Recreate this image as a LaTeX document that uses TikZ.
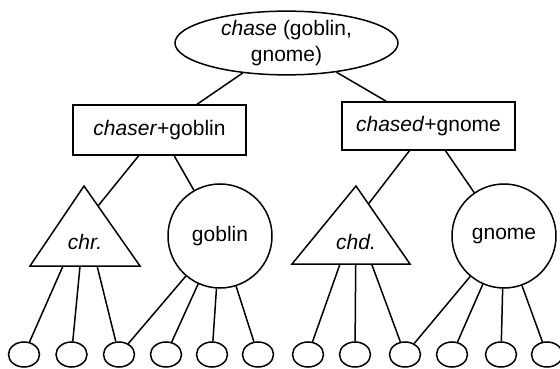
\documentclass[tikz,border=0pt]{standalone}
\usepackage{fontspec}
\setmainfont{Liberation Sans}
\usetikzlibrary{shapes.geometric,calc}
\begin{document}
\begin{tikzpicture}[x=1pt,y=-1pt,line width=1.5pt,
  every node/.style={font=\fontsize{21}{25.5}\selectfont,inner sep=0pt},
  oval/.style={draw,ellipse,minimum width=223pt,minimum height=62pt,align=center},
  box/.style={draw,rectangle,minimum width=173pt,minimum height=50pt},
  bigcirc/.style={draw,circle,minimum size=104pt},
  leaf/.style={draw,ellipse,minimum width=31pt,minimum height=25pt}]
\useasboundingbox (0,0) rectangle (560,369);
% top
\node[oval] (top) at (286.5,43) {\textit{chase} (goblin,\\gnome)};
% boxes
\node[box] (rectL) at (159.5,130) {\textit{chaser}+goblin};
\node[box,minimum height=48pt] (rectR) at (428.5,126) {\textit{chased}+gnome};
% triangles
\coordinate (tlA) at (84,186);
\coordinate (tlL) at (30,266);
\coordinate (tlR) at (140,266);
\draw[line join=miter] (tlA) -- (tlL) -- (tlR) -- cycle;
\node (triL) at (85,242) {\textit{chr.}};
\coordinate (trA) at (356,186);
\coordinate (trL) at (292,264);
\coordinate (trR) at (410,264);
\draw[line join=miter] (trA) -- (trL) -- (trR) -- cycle;
\node (triR) at (356,242) {\textit{chd.}};
% circles
\node[bigcirc] (gob) at (220,236) {goblin};
\node[bigcirc] (gno) at (504,236) {gnome};
% leaves
\foreach \i/\x in {1/24,2/71.5,3/119,4/166,5/212,6/258,7/308,8/355,9/405,10/452,11/501,12/547}
  \node[leaf] (e\i) at (\x,354.5) {};
% connectors
\draw (top) -- (rectL);
\draw (top) -- (rectR);
\draw (rectL) -- ($(tlA)!0.25!(tlR)$);
\draw (rectL) -- (gob);
\draw (rectR) -- ($(trA)!0.23!(trR)$);
\draw (rectR) -- (gno);
\draw ($(tlL)!0.30!(tlR)$) -- (e1);
\draw ($(tlL)!0.455!(tlR)$) -- (e2);
\draw ($(tlL)!0.61!(tlR)$) -- (e3);
\draw (gob) -- (e3);
\draw (gob) -- (e4);
\draw (gob) -- (e5);
\draw (gob) -- (e6);
\draw ($(trL)!0.407!(trR)$) -- (e7);
\draw ($(trL)!0.54!(trR)$) -- (e8);
\draw ($(trL)!0.675!(trR)$) -- (e9);
\draw (gno) -- (e9);
\draw (gno) -- (e10);
\draw (gno) -- (e11);
\draw (gno) -- (e12);
\end{tikzpicture}
\end{document}
